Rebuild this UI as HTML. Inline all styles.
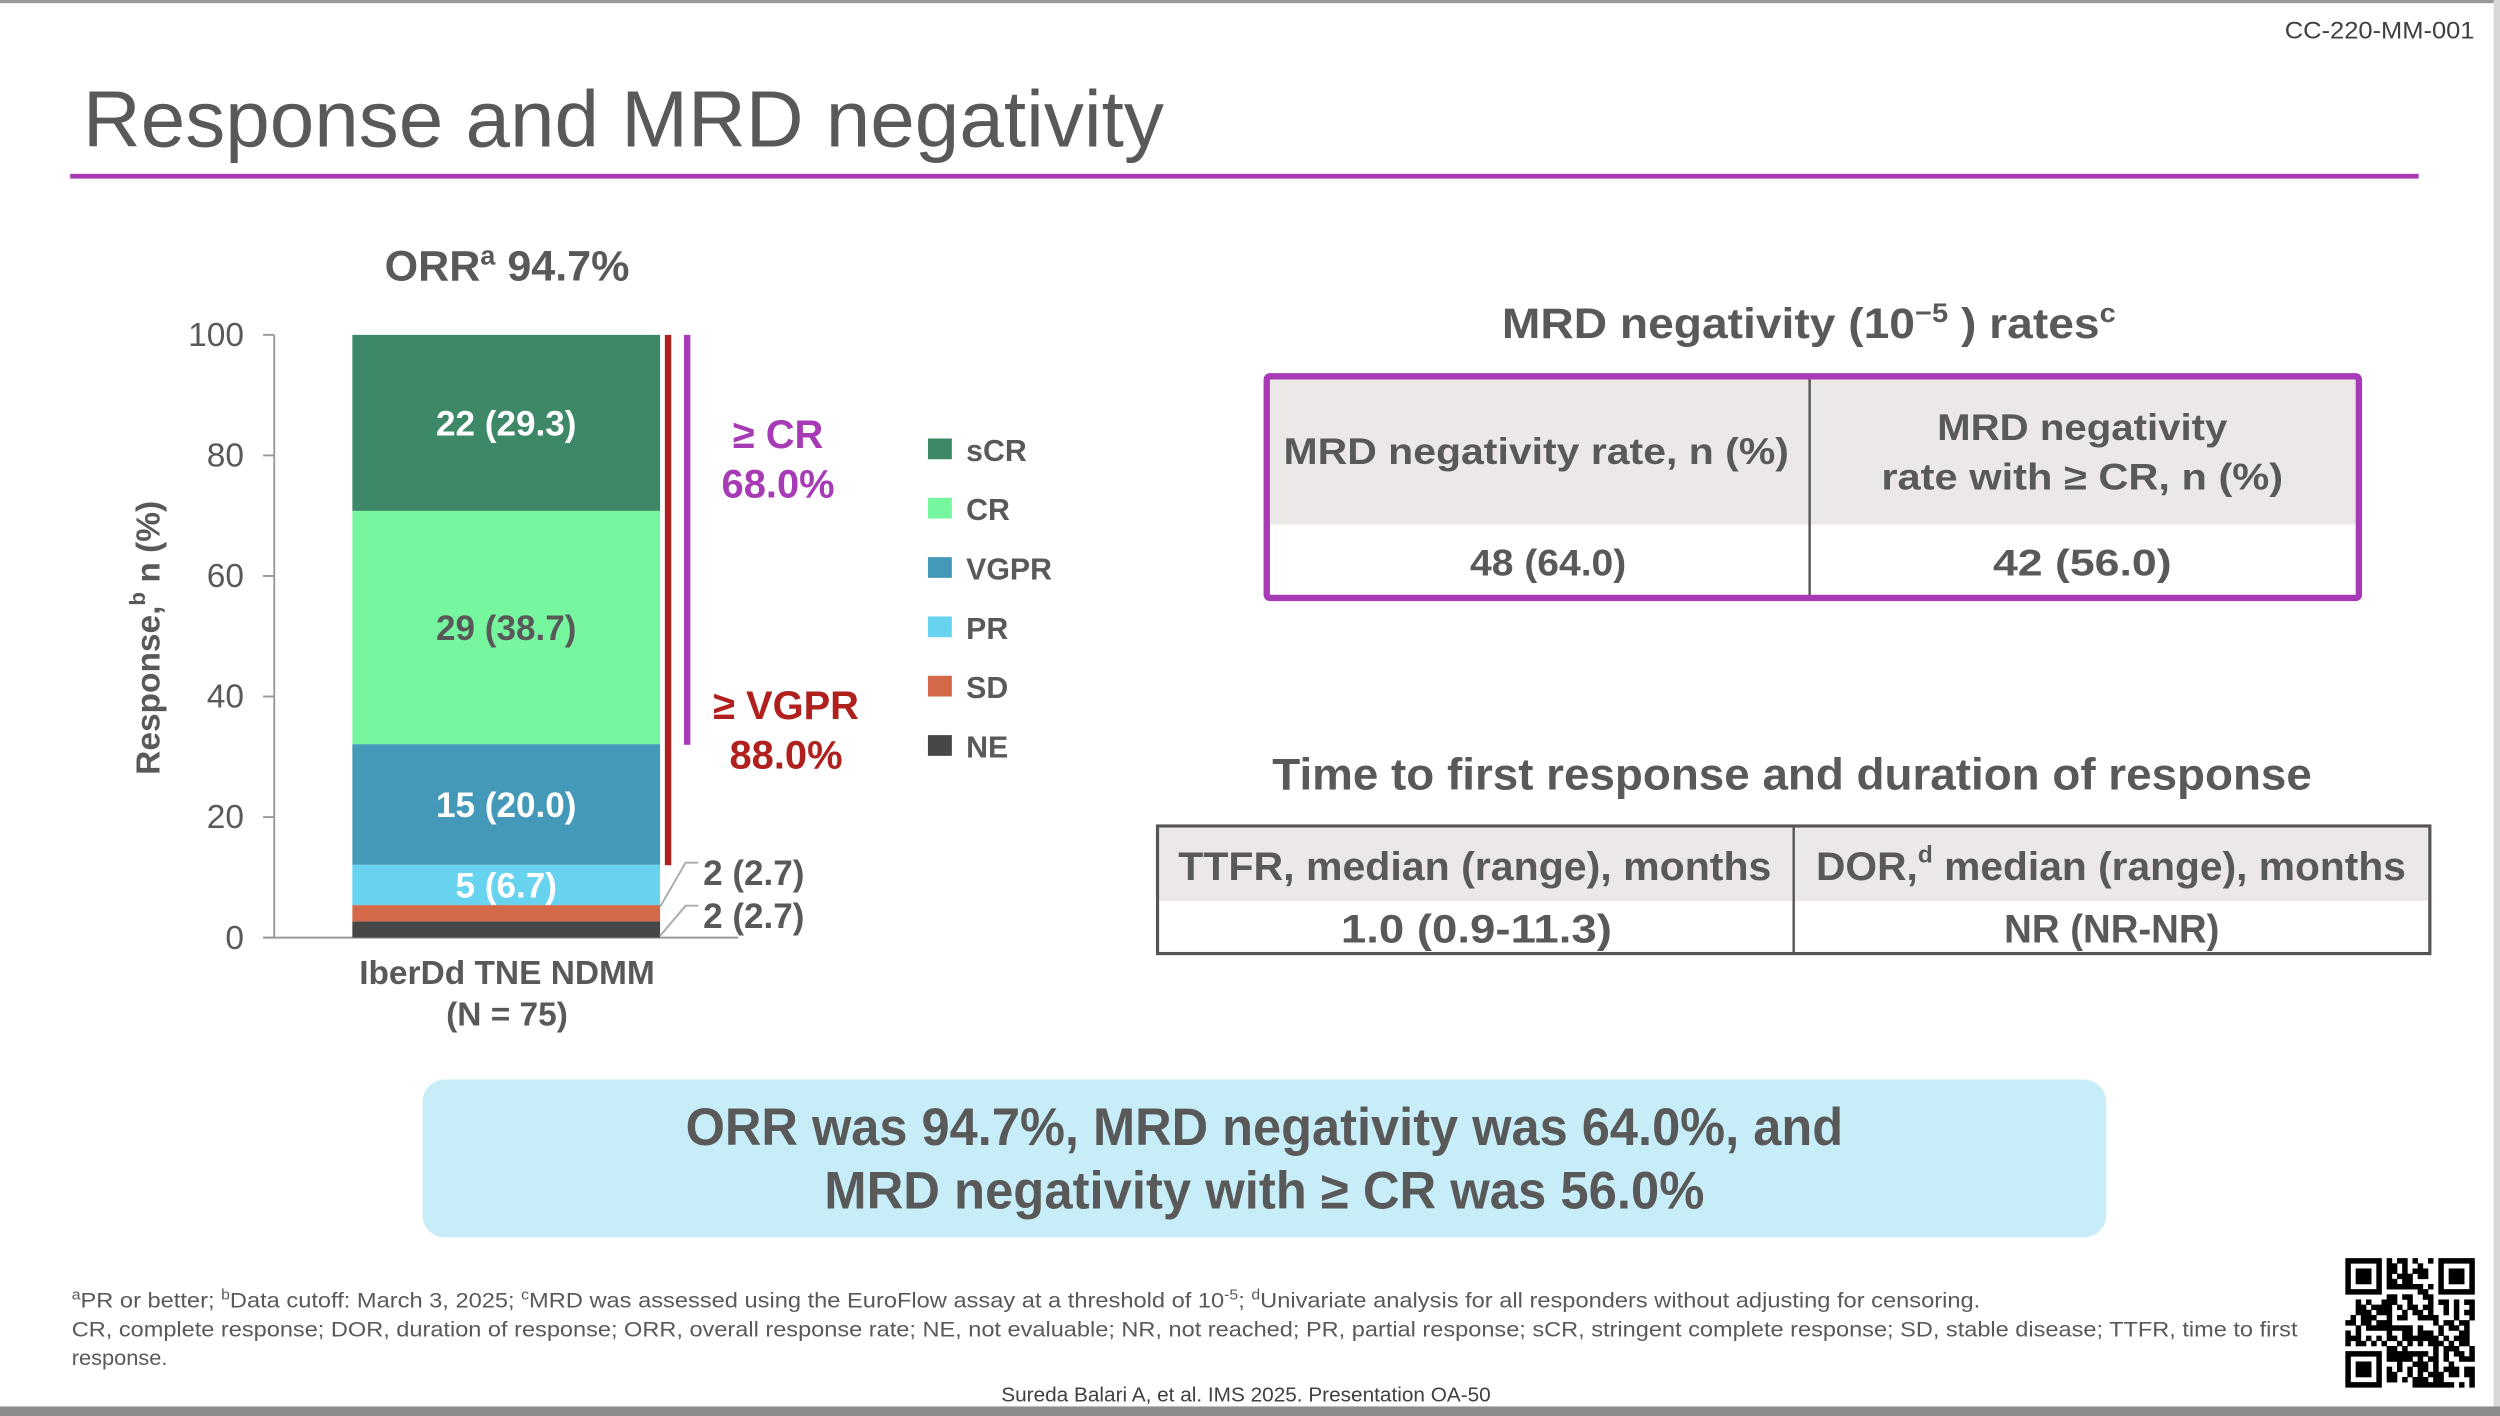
<!DOCTYPE html>
<html><head><meta charset="utf-8">
<style>
html,body{margin:0;padding:0;background:#fff;}
svg{display:block;font-family:"Liberation Sans",sans-serif;}
</style></head>
<body>
<svg id="slide" width="2500" height="1416" viewBox="0 0 1568 888" preserveAspectRatio="none" xmlns="http://www.w3.org/2000/svg">
<rect x="0" y="0" width="1568" height="888" fill="#fff"/>
<rect x="0" y="0" width="1568" height="2" fill="#9a9a9a"/>
<rect x="1564" y="0" width="4" height="888" fill="#d8d8d8"/>
<rect x="0" y="882" width="1568" height="6" fill="#8c8c8c"/>
<text x="1433" y="24" font-size="15" fill="#404040" textLength="119" lengthAdjust="spacingAndGlyphs">CC-220-MM-001</text>
<text x="52" y="92" font-size="50" fill="#595959" textLength="678" lengthAdjust="spacingAndGlyphs">Response and MRD negativity</text>
<rect x="44" y="109" width="1473" height="3" fill="#a63bb5"/>

<g id="chart"></g>

<!-- MRD table -->
<text x="942" y="212" font-size="27" font-weight="bold" fill="#595959" textLength="385" lengthAdjust="spacingAndGlyphs">MRD negativity (10<tspan font-size="17" dy="-10">−5</tspan><tspan dy="10"> ) rates</tspan><tspan font-size="17" dy="-10">c</tspan></text>
<g>
<rect x="795" y="237" width="683" height="92" fill="#ede8e8"/>
<line x1="1135" y1="237" x2="1135" y2="374" stroke="#555" stroke-width="1.5"/>
<text x="805" y="291" font-size="23" font-weight="bold" fill="#595959" textLength="317" lengthAdjust="spacingAndGlyphs">MRD negativity rate, n (%)</text>
<text x="1215" y="276" font-size="23" font-weight="bold" fill="#595959" textLength="182" lengthAdjust="spacingAndGlyphs">MRD negativity</text>
<text x="1180" y="307" font-size="23" font-weight="bold" fill="#595959" textLength="252" lengthAdjust="spacingAndGlyphs">rate with ≥ CR, n (%)</text>
<text x="922" y="361" font-size="23" font-weight="bold" fill="#595959" textLength="98" lengthAdjust="spacingAndGlyphs">48 (64.0)</text>
<text x="1250" y="361" font-size="23" font-weight="bold" fill="#595959" textLength="112" lengthAdjust="spacingAndGlyphs">42 (56.0)</text>
<rect x="794.5" y="236" width="685" height="139" fill="none" stroke="#a63bb5" stroke-width="4" rx="2"/>
</g>

<!-- TTFR table -->
<text x="798" y="495" font-size="28" font-weight="bold" fill="#595959" textLength="652" lengthAdjust="spacingAndGlyphs">Time to first response and duration of response</text>
<g>
<rect x="727" y="519" width="796" height="46" fill="#ede8e8"/>
<line x1="1125" y1="519" x2="1125" y2="597" stroke="#555" stroke-width="1.5"/>
<text x="739" y="552" font-size="25" font-weight="bold" fill="#595959" textLength="372" lengthAdjust="spacingAndGlyphs">TTFR, median (range), months</text>
<text x="1139" y="552" font-size="25" font-weight="bold" fill="#595959" textLength="370" lengthAdjust="spacingAndGlyphs">DOR,<tspan font-size="15" dy="-11">d</tspan><tspan dy="11"> median (range), months</tspan></text>
<text x="841" y="591" font-size="25" font-weight="bold" fill="#595959" textLength="170" lengthAdjust="spacingAndGlyphs">1.0 (0.9-11.3)</text>
<text x="1257" y="591" font-size="25" font-weight="bold" fill="#595959" textLength="135" lengthAdjust="spacingAndGlyphs">NR (NR-NR)</text>
<rect x="726" y="518" width="798" height="80" fill="none" stroke="#555" stroke-width="2"/>
</g>

<!-- callout -->
<g>
<rect x="265" y="677" width="1056" height="99" rx="14" fill="#c7eef8"/>
<text x="430" y="718" font-size="33" font-weight="bold" fill="#595959" textLength="726" lengthAdjust="spacingAndGlyphs">ORR was 94.7%, MRD negativity was 64.0%, and</text>
<text x="517" y="758" font-size="33" font-weight="bold" fill="#595959" textLength="552" lengthAdjust="spacingAndGlyphs">MRD negativity with ≥ CR was 56.0%</text>
</g>

<!-- footnotes -->
<g font-size="13.5" fill="#595959">
<text x="45" y="820" textLength="1197" lengthAdjust="spacingAndGlyphs"><tspan font-size="9" dy="-5">a</tspan><tspan dy="5">PR or better; </tspan><tspan font-size="9" dy="-5">b</tspan><tspan dy="5">Data cutoff: March 3, 2025; </tspan><tspan font-size="9" dy="-5">c</tspan><tspan dy="5">MRD was assessed using the EuroFlow assay at a threshold of 10</tspan><tspan font-size="9" dy="-5">-5</tspan><tspan dy="5">; </tspan><tspan font-size="9" dy="-5">d</tspan><tspan dy="5">Univariate analysis for all responders without adjusting for censoring.</tspan></text>
<text x="45" y="838" textLength="1396" lengthAdjust="spacingAndGlyphs">CR, complete response; DOR, duration of response; ORR, overall response rate; NE, not evaluable; NR, not reached; PR, partial response; sCR, stringent complete response; SD, stable disease; TTFR, time to first</text>
<text x="45" y="856" textLength="60" lengthAdjust="spacingAndGlyphs">response.</text>
</g>
<text x="628" y="879" font-size="12.5" fill="#404040" textLength="307" lengthAdjust="spacingAndGlyphs">Sureda Balari A, et al. IMS 2025. Presentation OA-50</text>

<g id="qr"></g>
</svg>

<script>
// ---- chart data ----
const categories = ["NE","SD","PR","VGPR","CR","sCR"];
const percents = [2.7, 2.7, 6.7, 20.0, 38.7, 29.3];
const counts = [2, 2, 5, 15, 29, 22];
const colors = ["#474747","#d4694a","#67d3ee","#4599b8","#76f79f","#3d8867"];
const yTicks = [0, 20, 40, 60, 80, 100];
const legendOrder = ["sCR","CR","VGPR","PR","SD","NE"];
const crRate = 68.0;
const vgprRate = 88.0;
const orr = 94.7;

const NS = "http://www.w3.org/2000/svg";
const chart = document.getElementById('chart');
const y0 = 588, y100 = 210;
function yScale(v){ return y0 - (v/100)*(y0-y100); }
function mk(tag, attrs, parent){
  const e = document.createElementNS(NS, tag);
  for (const k in attrs) e.setAttribute(k, attrs[k]);
  (parent||chart).appendChild(e);
  return e;
}
// ORR title
let t = mk('text',{x:318,y:176,'font-size':27,'font-weight':'bold',fill:'#595959','text-anchor':'middle'});


t.innerHTML = 'ORR<tspan font-size="17" dy="-10">a</tspan><tspan dy="10"> '+orr.toFixed(1)+'%</tspan>';
// axis
let ax = mk('line',{x1:172,y1:y100,x2:172,y2:y0,stroke:'#999','stroke-width':1.2});


let bx = mk('line',{x1:165,y1:y0,x2:463,y2:y0,stroke:'#999','stroke-width':1.2});


yTicks.forEach(v=>{
  const tk = mk('line',{x1:165,y1:yScale(v),x2:172,y2:yScale(v),stroke:'#999','stroke-width':1.2});
  
  
  const tl = mk('text',{x:153,y:yScale(v)+7,'font-size':21,fill:'#595959','text-anchor':'end'});
  
  
  tl.textContent = v;
});
// y title
let yt = mk('text',{x:0,y:0,'font-size':21,'font-weight':'bold',fill:'#595959','text-anchor':'middle',transform:'translate(100,400) rotate(-90)'});


yt.innerHTML = 'Response,<tspan font-size="14" dy="-9">b</tspan><tspan dy="9"> n (%)</tspan>';
// bars
const bx0 = 221, bw = 193;
let cum = 0;
const segTops = [];
percents.forEach((p,i)=>{
  const top = cum + p;
  const r = mk('rect',{x:bx0,y:yScale(Math.min(top,100)),width:bw,height:yScale(cum)-yScale(Math.min(top,100)),fill:colors[i]});
  
  
  segTops.push([cum, top]);
  cum = top;
});
// inside labels
[2,3,4,5].forEach(i=>{
  const mid = (segTops[i][0]+segTops[i][1])/2;
  const lbl = mk('text',{x:bx0+bw/2,y:yScale(mid)+8,'font-size':22,'font-weight':'bold',fill:categories[i]==="CR"?'#595959':'#ffffff','text-anchor':'middle'});
  
  
  lbl.textContent = counts[i]+' ('+percents[i].toFixed(1)+')';
});
// outside labels for SD and NE
[[1,547],[0,574]].forEach(([i,ly])=>{
  const mid = (segTops[i][0]+segTops[i][1])/2;
  const ln = mk('polyline',{points:(bx0+bw)+','+(yScale(mid)+ (i===1?-4:4))+' '+(bx0+bw+16)+','+(ly-6)+' '+(bx0+bw+24)+','+(ly-6),fill:'none',stroke:'#aaa','stroke-width':1.2});
  
  
  const lbl = mk('text',{x:441,y:ly+8,'font-size':22,'font-weight':'bold',fill:'#595959'});
  
  
  lbl.textContent = counts[i]+' ('+percents[i].toFixed(1)+')';
});
// brackets
let rl = mk('line',{x1:419,y1:y100,x2:419,y2:yScale(100-vgprRate),stroke:'#b0201c','stroke-width':4});


let pl = mk('line',{x1:431,y1:y100,x2:431,y2:yScale(100-crRate),stroke:'#a63bb5','stroke-width':4});


let c1 = mk('text',{x:488,y:281,'font-size':25,'font-weight':'bold',fill:'#a63bb5','text-anchor':'middle'});


c1.textContent = '≥ CR';
let c2 = mk('text',{x:488,y:312,'font-size':25,'font-weight':'bold',fill:'#a63bb5','text-anchor':'middle'});


c2.textContent = crRate.toFixed(1)+'%';
let v1 = mk('text',{x:493,y:451,'font-size':25,'font-weight':'bold',fill:'#b0201c','text-anchor':'middle'});


v1.textContent = '≥ VGPR';
let v2 = mk('text',{x:493,y:482,'font-size':25,'font-weight':'bold',fill:'#b0201c','text-anchor':'middle'});


v2.textContent = vgprRate.toFixed(1)+'%';
// x labels
let x1 = mk('text',{x:318,y:617,'font-size':21,'font-weight':'bold',fill:'#595959','text-anchor':'middle'});


x1.textContent = 'IberDd TNE NDMM';
let x2 = mk('text',{x:318,y:643,'font-size':21,'font-weight':'bold',fill:'#595959','text-anchor':'middle'});


x2.textContent = '(N = 75)';
// legend
legendOrder.forEach((c,k)=>{
  const i = categories.indexOf(c);
  const ly = 282 + k*37.2;
  const sq = mk('rect',{x:582,y:ly-7,width:15,height:13,fill:colors[i]});
  
  
  const lt = mk('text',{x:606,y:ly+7,'font-size':19,'font-weight':'bold',fill:'#595959'});
  
  
  lt.textContent = c;
});

// QR (decorative)
const qr = document.getElementById('qr');
const qx=1471, qy=789, cell=81/25;
const bits = "1111111010110100111111110000010011101001000001101110101010110101110110111010111001010111011011101010011101011101100000101010101000001111111101010101011111110000000011010110000000011011101100111010111100101001110010001011010110011011110101101100101001001110111001011010010101101011100101100111100010011101101110000000010110110001011111111101000101101010100000100110111010001101110101011011111110101110101101010010101011101011011010011110100000101110011101010111111111010101101101101";
let w = document.createElementNS(NS,'rect');
w.setAttribute('x',qx);w.setAttribute('y',qy);w.setAttribute('width',81);w.setAttribute('height',81);w.setAttribute('fill','#fff');
qr.appendChild(w);
for(let r=0;r<25;r++)for(let c=0;c<25;c++){
  let on;
  const inF=(rr,cc)=>rr>=0&&rr<7&&cc>=0&&cc<7;
  const fin=(rr,cc)=>{const m=Math.max(Math.abs(rr-3),Math.abs(cc-3));return m!==2;};
  if(inF(r,c)) on=fin(r,c);
  else if(inF(r,c-18)) on=fin(r,c-18);
  else if(inF(r-18,c)) on=fin(r-18,c);
  else if(r===7&&c<8||c===7&&r<8||r===7&&c>16||c===17&&r<8||r===17&&c<8||c===7&&r>16) on=false;
  else on = bits[(r*25+c)%bits.length]==='1';
  if(on){
    const b=document.createElementNS(NS,'rect');
    b.setAttribute('x',qx+c*cell);b.setAttribute('y',qy+r*cell);
    b.setAttribute('width',cell+0.2);b.setAttribute('height',cell+0.2);b.setAttribute('fill','#000');
    qr.appendChild(b);
  }
}
</script>
</body></html>
